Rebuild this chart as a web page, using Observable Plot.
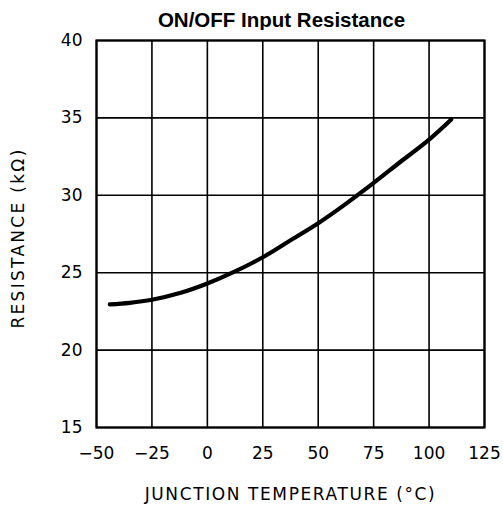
<!DOCTYPE html>
<html>
<head>
<meta charset="utf-8">
<script src="https://cdn.jsdelivr.net/npm/d3@7"></script>
<script src="https://cdn.jsdelivr.net/npm/@observablehq/plot@0.6"></script>
<style>
  html, body { margin: 0; padding: 0; background: #fff; }
  #wrap { position: relative; width: 503px; height: 506px; }
  #title { position: absolute; top: 0; left: 60px; width: 443px; height: 30px; line-height: 40px;
           text-align: center; font-family: "Liberation Sans", Arial, sans-serif; font-weight: bold; font-size: 20.5px; color: #000; }
  #chart { position: absolute; top: 30px; left: 0; }
  #chart svg text { fill: #000; }
  .xlab { letter-spacing: 1.6px; }
  .ylab { letter-spacing: 2.3px; }
</style>
</head>
<body>
<div id="wrap">
  <div id="title">ON/OFF Input Resistance</div>
  <div id="chart"></div>
</div>
<script>
const temperature = [-44, -35, -25, -12, 0, 12, 25, 37, 50, 62, 75, 87, 100, 110];
const resistance  = [22.95, 23.05, 23.25, 23.7, 24.3, 25.05, 26.0, 27.05, 28.2, 29.4, 30.8, 32.15, 33.6, 34.9];
const xTicks = [-50, -25, 0, 25, 50, 75, 100, 125];
const yTicks = [15, 20, 25, 30, 35, 40];
const xLabel = "JUNCTION TEMPERATURE (°C)";
const yLabel = "RESISTANCE (kΩ)";

const data = temperature.map((t, i) => ({t, r: resistance[i]}));

const chart = Plot.plot({
  width: 503,
  height: 476,
  marginLeft: 96,
  marginRight: 19,
  marginTop: 10,
  marginBottom: 79,
  style: {fontFamily: "'DejaVu Sans', sans-serif", fontSize: "17px", color: "#000", background: "#fff"},
  x: {domain: [-50, 125], ticks: xTicks},
  y: {domain: [15, 40], ticks: yTicks},
  marks: [
    Plot.gridX(xTicks, {stroke: "#000", strokeOpacity: 1, strokeWidth: 1.6}),
    Plot.gridY(yTicks, {stroke: "#000", strokeOpacity: 1, strokeWidth: 1.6}),
    Plot.frame({stroke: "#000", strokeWidth: 2.2}),
    Plot.axisX(xTicks, {tickSize: 0, tickPadding: 19, fontSize: 17, label: null}),
    Plot.axisY(yTicks, {tickSize: 0, tickPadding: 14, fontSize: 17, label: null}),
    Plot.text([xLabel], {frameAnchor: "bottom", dy: 72, fontSize: 17, className: "xlab", text: d => d}),
    Plot.text([yLabel], {frameAnchor: "left", textAnchor: "middle", dx: -78, dy: 4, rotate: -90, fontSize: 17, className: "ylab", text: d => d}),
    Plot.line(data, {x: "t", y: "r", stroke: "#000", strokeWidth: 4.2, curve: "catmull-rom"})
  ]
});
document.getElementById("chart").appendChild(chart);
</script>
</body>
</html>
